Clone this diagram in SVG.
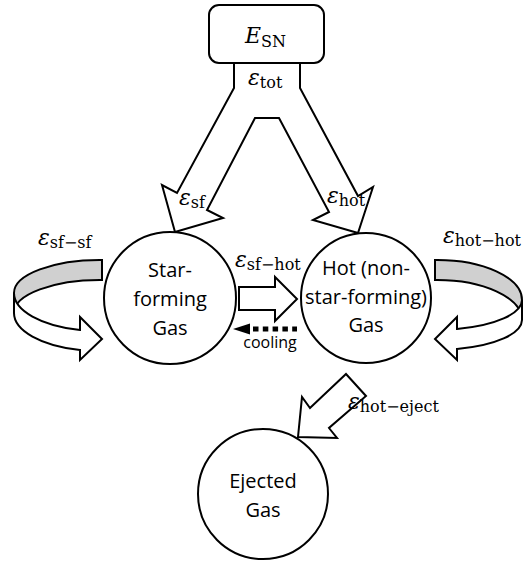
<svg xmlns="http://www.w3.org/2000/svg" width="531" height="561" viewBox="0 0 531 561">
<style>
.ln{fill:#fff;stroke:#000;stroke-width:2;stroke-linejoin:miter}
.gr{fill:#d0d0d0;stroke:#000;stroke-width:2}
.nd{fill:#fff;stroke:#000;stroke-width:2}
.lb{font-family:"Open Sans","Noto Sans",sans-serif;font-size:20px;fill:#000;text-anchor:middle}
.mt{font-family:"DejaVu Serif","Liberation Serif",serif;font-size:22px;fill:#000}
.eps{font-style:italic}
.sub{font-size:16px}
</style>
<rect width="531" height="561" fill="#fff"/>
<g id="connectors">
  <path class="ln" d="M234,63 L234,88 L177,193 L162,185 L175,232 L223,218 L207,210 L255,118 L279,118 L329,212 L313,220 L358,233 L373,187 L358,196 L300,88 L300,63"/>
  <path class="gr" d="M102,260 A86,33 0 0 0 14,293 L14,313 A86,33 0 0 1 102,280 Z"/>
  <path class="ln" d="M14,293 A86,38 0 0 0 80,330 L80,317 L102,339 L80,360 L80,350 A86,38 0 0 1 14,313 Z"/>
  <path class="gr" d="M435,260 A85,40 0 0 1 522,300 L522,320 A85,40 0 0 0 435,280 Z"/>
  <path class="ln" d="M522,300 A85,30 0 0 1 457,329 L457,317 L435,339 L457,360 L457,349 A85,30 0 0 0 522,320 Z"/>
  <path class="ln" d="M239,287 L275,287 L275,277 L297,299 L275,321 L275,310 L239,310 Z"/>
  <line x1="253" y1="329" x2="297" y2="329" stroke="#000" stroke-width="5" stroke-dasharray="5.5 4.3"/>
  <polygon points="233,329 250,323.5 250,334.5" fill="#000"/>
  <path class="ln" d="M346,374 L366,396 L329,428 L337,438 L298,437 L302,397 L310,408 Z"/>
  <text class="mt" x="248" y="85"><tspan class="eps">ε</tspan><tspan class="sub" dy="3">tot</tspan></text>
  <text class="mt" x="179" y="205"><tspan class="eps">ε</tspan><tspan class="sub" dy="3">sf</tspan></text>
  <text class="mt" x="327" y="203"><tspan class="eps">ε</tspan><tspan class="sub" dy="3">hot</tspan></text>
  <text class="mt" x="38" y="245"><tspan class="eps">ε</tspan><tspan class="sub" dy="3">sf−sf</tspan></text>
  <text class="mt" x="443" y="243"><tspan class="eps">ε</tspan><tspan class="sub" dy="3">hot−hot</tspan></text>
  <text class="mt" x="235" y="267"><tspan class="eps">ε</tspan><tspan class="sub" dy="3">sf−hot</tspan></text>
  <text class="mt" x="348" y="409"><tspan class="eps">ε</tspan><tspan class="sub" dy="3">hot−eject</tspan></text>
  <text class="lb" x="270" y="348" style="font-size:16px">cooling</text>
</g>
<g id="esn">
  <rect class="nd" x="209" y="5" width="115" height="58" rx="10"/>
  <text class="mt" x="245" y="43"><tspan class="eps">E</tspan><tspan class="sub" dy="4">SN</tspan></text>
</g>
<g id="starforming">
  <circle class="nd" cx="170" cy="298" r="66"/>
  <text class="lb" x="170" y="277">Star-</text>
  <text class="lb" x="170" y="306">forming</text>
  <text class="lb" x="170" y="335">Gas</text>
</g>
<g id="hot">
  <circle class="nd" cx="366" cy="298" r="65"/>
  <text class="lb" x="366" y="275">Hot (non-</text>
  <text class="lb" x="366" y="304">star-forming)</text>
  <text class="lb" x="366" y="332">Gas</text>
</g>
<g id="ejected">
  <circle class="nd" cx="263" cy="494" r="65"/>
  <text class="lb" x="263" y="488">Ejected</text>
  <text class="lb" x="263" y="517">Gas</text>
</g>
</svg>
